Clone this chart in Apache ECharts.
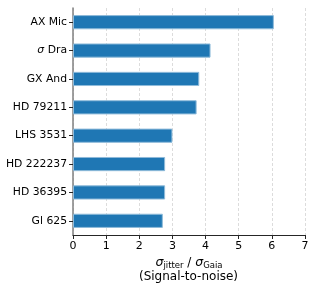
<!DOCTYPE html>
<html><head><meta charset="utf-8">
<script src="https://cdn.jsdelivr.net/npm/echarts@6/dist/echarts.min.js"></script>
<style>html,body{margin:0;padding:0;background:#fff}#c{width:315px;height:290px}</style>
</head><body><div id="c"></div>
<script>
const categories = ["AX Mic", "σ Dra", "GX And", "HD 79211", "LHS 3531", "HD 222237", "HD 36395", "Gl 625"];
const values = [6.06, 4.15, 3.81, 3.73, 3.0, 2.78, 2.78, 2.71];
const xTicks = [0, 1, 2, 3, 4, 5, 6, 7];

const FONT = "DejaVu Sans";
const chart = echarts.init(document.getElementById('c'), null, {renderer: 'canvas'});
chart.setOption({
  animation: false,
  grid: {left: 73, right: 10, top: 8, bottom: 55},
  xAxis: {
    type: 'value', min: xTicks[0], max: xTicks[xTicks.length - 1], interval: 1,
    axisLine: {show: true, lineStyle: {color: '#262626', width: 1}},
    axisTick: {show: true, length: 4, lineStyle: {color: '#262626'}},
    axisLabel: {color: '#000', fontFamily: FONT, fontSize: 11, margin: 6},
    splitLine: {show: true, lineStyle: {color: '#dcdcdc', type: [3, 2], width: 1}}
  },
  yAxis: {
    type: 'category', data: categories, inverse: true,
    axisLine: {show: true, lineStyle: {color: '#808080', width: 1.5}},
    axisTick: {show: true, length: 4, alignWithLabel: true, lineStyle: {color: '#262626'}},
    axisLabel: {
      color: '#000', fontFamily: FONT, fontSize: 10.8, margin: 6,
      formatter: function (v) {
        if (v.startsWith('σ')) return '{it|σ}' + v.slice(1);
        return v;
      },
      rich: {it: {fontStyle: 'italic', fontFamily: FONT, fontSize: 10.8, color: '#000'}}
    },
    splitLine: {show: false}
  },
  series: [{
    type: 'bar', data: values, barWidth: '50%',
    itemStyle: {color: '#1f77b4', borderColor: '#8fbbda', borderWidth: 1}
  }],
  graphic: [
    {type: 'text', x: 189, y: 255, style: {
      text: '{s|σ}{sub|jitter} / {s|σ}{sub|Gaia}',
      align: 'center',
      rich: {
        s: {fontFamily: FONT, fontStyle: 'italic', fontSize: 12.5, fill: '#000'},
        sub: {fontFamily: FONT, fontSize: 8.5, fill: '#000', padding: [6, 0, 0, 0]}
      },
      fill: '#000', font: '12px ' + FONT
    }},
    {type: 'text', x: 188.5, y: 271, style: {
      text: '(Signal-to-noise)', align: 'center', fill: '#000', font: '12px "DejaVu Sans"'
    }}
  ]
});
</script></body></html>
